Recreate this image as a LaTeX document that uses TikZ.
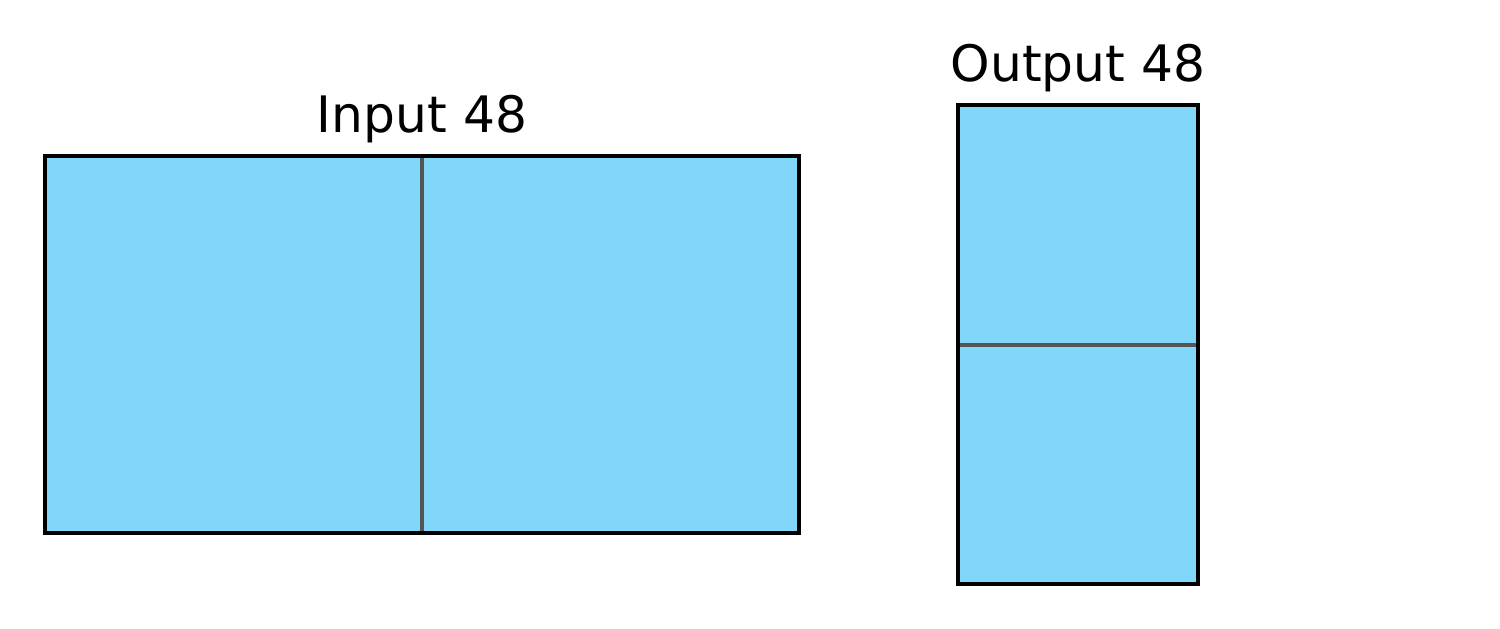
\documentclass[tikz,border=0pt]{standalone}
\usepackage{fontspec}
\setmainfont{DejaVu Sans}
\usetikzlibrary{positioning}
\definecolor{celda}{HTML}{80D7FA}
\definecolor{divisor}{HTML}{555555}
\tikzset{
    bloque/.style={draw=black,line width=0.9pt,fill=celda},
    borde/.style={draw=black,line width=0.9pt},
    corte/.style={draw=divisor,line width=0.9pt},
    titulo/.style={font=\fontsize{14.3}{17}\selectfont,inner sep=0pt,anchor=base}
}
\begin{document}
\begin{tikzpicture}[scale=1]

    \useasboundingbox (0,0) rectangle (15,6.29);

    %Entrada
    \coordinate (e1) at (0.45,0.96);
    \coordinate (e2) at (7.99,4.73);
    \draw[bloque] (e1) rectangle (e2);
    \coordinate (ea) at (4.22,0.96);
    \coordinate (eb) at (4.22,4.73);
    \draw[corte] (ea) -- (eb);
    \draw[borde] (e1) rectangle (e2);
    \node[titulo] (tin) at (4.22,4.96) {Input 48};

    %Salida
    \coordinate (s1) at (9.58,0.45);
    \coordinate (s2) at (11.98,5.24);
    \draw[bloque] (s1) rectangle (s2);
    \coordinate (sa) at (9.58,2.84);
    \coordinate (sb) at (11.98,2.84);
    \draw[corte] (sa) -- (sb);
    \draw[borde] (s1) rectangle (s2);
    \node[titulo] (tout) at (10.78,5.47) {Output 48};

\end{tikzpicture}
\end{document}
